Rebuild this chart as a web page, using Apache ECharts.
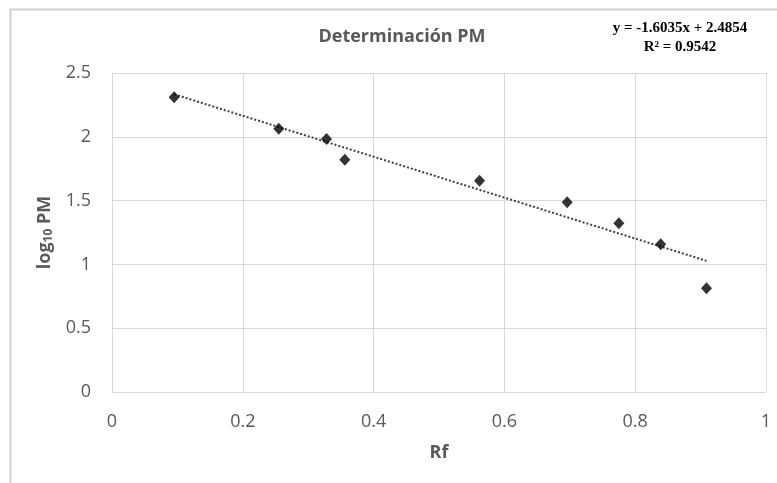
<!DOCTYPE html>
<html>
<head>
<meta charset="utf-8">
<script src="https://cdn.jsdelivr.net/npm/echarts@6/dist/echarts.min.js"></script>
<style>
  html, body { margin: 0; padding: 0; background: #fff; }
  #main { width: 777px; height: 483px; }
</style>
</head>
<body>
<div id="main"></div>
<script>
// valores
const rf = [0.095, 0.255, 0.328, 0.356, 0.562, 0.696, 0.775, 0.839, 0.909]
const logPM = [2.31, 2.063, 1.982, 1.82, 1.655, 1.488, 1.323, 1.158, 0.813]
// línea de tendencia (Excel)
const slope = -1.6035
const intercept = 2.4854
const r2 = 0.9542
const xTicks = [0, 0.2, 0.4, 0.6, 0.8, 1]
const yTicks = [0, 0.5, 1, 1.5, 2, 2.5]

const points = rf.map((x, i) => [x, logPM[i]])
const xMin = Math.min(...rf)
const xMax = Math.max(...rf)
const trend = [[xMin, slope * xMin + intercept], [xMax, slope * xMax + intercept]]

const gray = '#595959'
const gridColor = '#d9d9d9'

const myChart = echarts.init(document.getElementById('main'))
const option = {
  backgroundColor: '#fff',
  animation: false,
  title: {
    text: 'Determinación PM',
    left: 397,
    top: 23,
    textAlign: 'center',
    textStyle: { fontFamily: 'Open Sans', fontSize: 18, fontWeight: 'bold', color: gray }
  },
  graphic: [
    {
      type: 'rect',
      shape: { x: 10.5, y: 9.5, width: 900, height: 600 },
      style: { fill: 'none', stroke: '#cfcfcf', lineWidth: 2 }
    },
    {
      type: 'text',
      x: 680,
      y: 19,
      style: {
        text: 'y = ' + slope + 'x + ' + intercept + '\nR² = ' + r2,
        font: 'bold 15px "Liberation Serif"',
        fill: '#000',
        align: 'center',
        lineHeight: 19
      }
    }
  ],
  grid: { left: 112, right: 11, top: 73, bottom: 91 },
  xAxis: {
    type: 'value',
    min: xTicks[0],
    max: xTicks[xTicks.length - 1],
    interval: 0.2,
    name: 'Rf',
    nameLocation: 'middle',
    nameGap: 52,
    nameTextStyle: { fontFamily: 'Open Sans', fontSize: 18, fontWeight: 'bold', color: gray },
    axisLine: { show: true, lineStyle: { color: gridColor } },
    axisTick: { show: false },
    axisLabel: { margin: 21, fontFamily: 'Open Sans', fontSize: 18, color: gray },
    splitLine: { show: true, lineStyle: { color: gridColor } }
  },
  yAxis: {
    type: 'value',
    min: yTicks[0],
    max: yTicks[yTicks.length - 1],
    interval: 0.5,
    name: '{a|log}{b|10}{a| PM}',
    nameLocation: 'middle',
    nameGap: 53,
    nameTextStyle: {
      rich: {
        a: { fontFamily: 'Open Sans', fontSize: 18, fontWeight: 'bold', color: gray },
        b: { fontFamily: 'Open Sans', fontSize: 12, fontWeight: 'bold', color: gray, padding: [8, 0, 0, 0] }
      }
    },
    axisLine: { show: false },
    axisTick: { show: false },
    axisLabel: { margin: 21, fontFamily: 'Open Sans', fontSize: 18, color: gray },
    splitLine: { show: true, lineStyle: { color: gridColor } }
  },
  series: [
    {
      name: 'tendencia',
      type: 'line',
      data: trend,
      symbol: 'none',
      lineStyle: { type: 'dotted', width: 2, color: '#404040' },
      z: 2
    },
    {
      name: 'log PM',
      type: 'scatter',
      data: points,
      symbol: 'diamond',
      symbolSize: [11, 12],
      itemStyle: { color: '#000' },
      z: 3
    }
  ]
}
myChart.setOption(option)
</script>
</body>
</html>
